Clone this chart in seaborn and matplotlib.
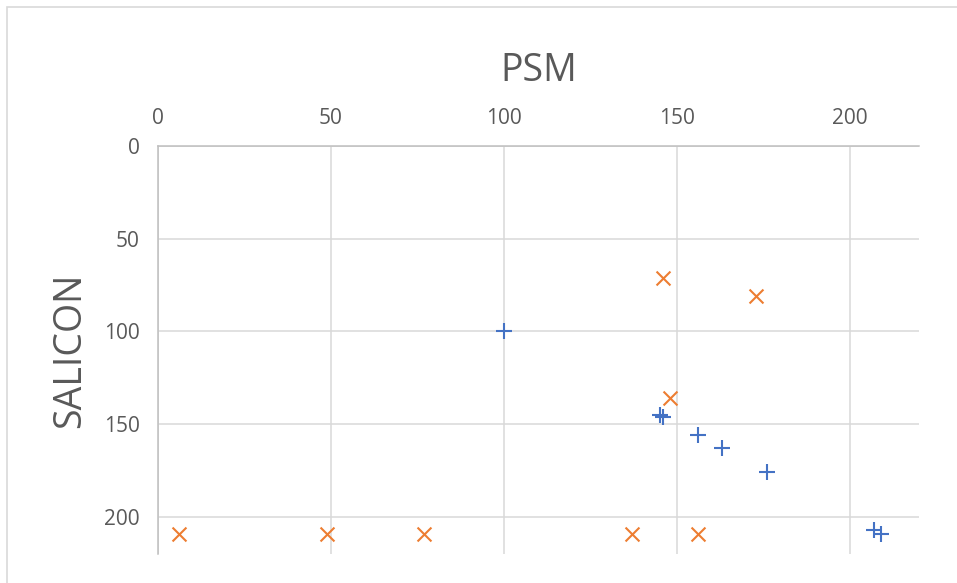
import matplotlib
matplotlib.use("Agg")
import matplotlib.pyplot as plt
import seaborn as sns
import pandas as pd
from matplotlib.patches import Rectangle

# Series 1 (blue plus markers)
s1_psm = [100, 145, 146, 156, 163, 176, 207, 209]
s1_salicon = [100, 145, 146, 156, 163, 176, 207, 209]

# Series 2 (orange cross markers)
s2_psm = [146, 173, 148, 6, 49, 77, 137, 156]
s2_salicon = [71, 81, 136, 209, 209, 209, 209, 209]

x_ticks = [0, 50, 100, 150, 200]
y_ticks = [0, 50, 100, 150, 200]

sns.set_theme(style="white")
plt.rcParams["font.family"] = ["Open Sans", "DejaVu Sans"]

W, H = 957, 583
fig = plt.figure(figsize=(W / 100, H / 100), dpi=100)
left, right, top, bottom = 158, 919, 146, 554
ax = fig.add_axes([left / W, 1 - bottom / H, (right - left) / W, (bottom - top) / H])

# chart-area border
fig.patches.append(Rectangle((7 / W, -0.1), 1.2, 1 - 7 / H + 0.1, transform=fig.transFigure,
                             fill=False, edgecolor="#D9D9D9", linewidth=1.2, zorder=0))

df1 = pd.DataFrame({"PSM": s1_psm, "SALICON": s1_salicon})
df2 = pd.DataFrame({"PSM": s2_psm, "SALICON": s2_salicon})

sns.scatterplot(data=df1, x="PSM", y="SALICON", ax=ax, marker="+", color="#4472C4",
                s=130, linewidth=1.5, zorder=3)
sns.scatterplot(data=df2, x="PSM", y="SALICON", ax=ax, marker="x", color="#ED7D31",
                s=100, linewidth=1.5, zorder=3)

ax.set_xlim(0, 220)
ax.set_ylim(220, 0)
ax.set_xticks(x_ticks)
ax.set_yticks(y_ticks)
ax.xaxis.tick_top()
ax.xaxis.set_label_position("top")
ax.tick_params(axis="both", length=0, labelsize=15, labelcolor="#595959")
ax.tick_params(axis="x", pad=12)
ax.tick_params(axis="y", pad=13)

ax.grid(True, color="#D9D9D9", linewidth=1.1)
ax.set_axisbelow(True)
for side in ["right", "bottom"]:
    ax.spines[side].set_visible(False)
for side in ["left", "top"]:
    ax.spines[side].set_visible(True)
    ax.spines[side].set_color("#BFBFBF")
    ax.spines[side].set_linewidth(1.1)

ax.set_xlabel("PSM", fontsize=27, color="#595959", labelpad=20)
ax.set_ylabel("SALICON", fontsize=27, color="#595959", labelpad=11)

fig.savefig("out.png", dpi=100, facecolor="white")
